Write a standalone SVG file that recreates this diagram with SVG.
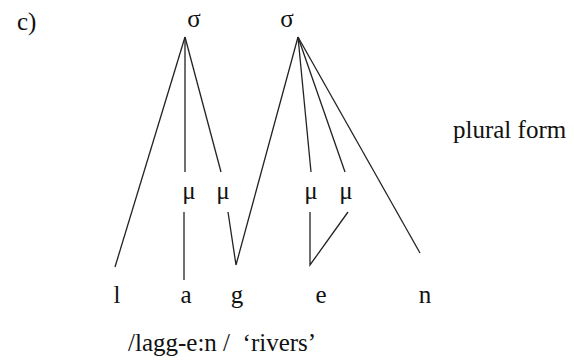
<svg xmlns="http://www.w3.org/2000/svg" width="574" height="363" viewBox="0 0 574 363">
<style>
text{font-family:"Liberation Serif","Times New Roman",serif;font-size:25px;fill:#111}
.m{text-anchor:middle}
line,polyline{stroke:#222;stroke-width:1.3;fill:none}
</style>
<rect width="574" height="363" fill="#fff"/>
<g id="label-c"><text x="17" y="30">c)</text></g>
<g id="syl1"><text class="m" x="194" y="27">σ</text></g>
<g id="syl2"><text class="m" x="287" y="27">σ</text></g>
<g id="mu1"><text class="m" x="189" y="199">μ</text></g>
<g id="mu2"><text class="m" x="223" y="199">μ</text></g>
<g id="mu3"><text class="m" x="311" y="199">μ</text></g>
<g id="mu4"><text class="m" x="346" y="199">μ</text></g>
<g id="seg-l"><text class="m" x="117" y="303">l</text></g>
<g id="seg-a"><text class="m" x="186" y="303">a</text></g>
<g id="seg-g"><text class="m" x="237" y="303">g</text></g>
<g id="seg-e"><text class="m" x="321" y="303">e</text></g>
<g id="seg-n"><text class="m" x="425" y="303">n</text></g>
<g id="plural"><text x="453" y="138">plural form</text></g>
<g id="gloss"><text x="128" y="351" xml:space="preserve">/lagg-e:n /  ‘rivers’</text></g>
<g id="connectors">
<line x1="185" y1="37" x2="115" y2="267"/>
<line x1="185" y1="37" x2="185" y2="172"/>
<line x1="185" y1="37" x2="221" y2="172"/>
<polyline points="228,212 236,265 298,37"/>
<line x1="298" y1="37" x2="311" y2="172"/>
<line x1="298" y1="37" x2="345" y2="172"/>
<line x1="298" y1="37" x2="420" y2="253"/>
<line x1="184" y1="212" x2="184" y2="280"/>
<polyline points="310,212 310,265 348,212"/>
</g>
</svg>
